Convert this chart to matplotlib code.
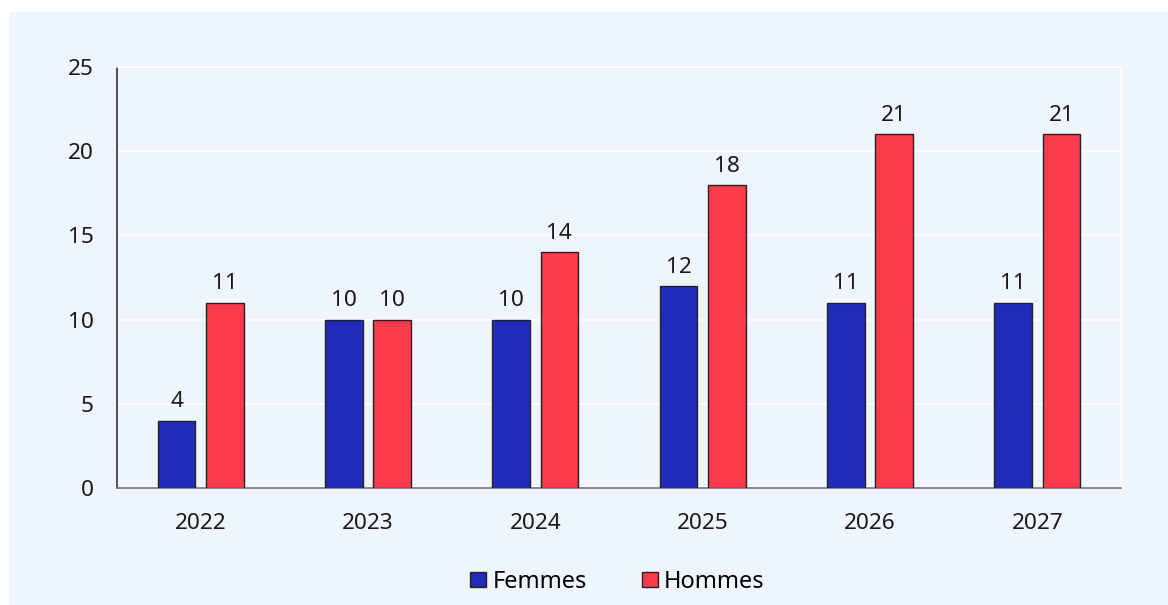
import matplotlib
matplotlib.use("Agg")
import matplotlib.pyplot as plt
from matplotlib.patches import Rectangle
import numpy as np

years = ["2022", "2023", "2024", "2025", "2026", "2027"]
femmes = [4, 10, 10, 12, 11, 11]
hommes = [11, 10, 14, 18, 21, 21]
series_names = ["Femmes", "Hommes"]
colors = ["#1f2bb9", "#fb3a4b"]
yticks = [0, 5, 10, 15, 20, 25]

plt.rcParams['font.family'] = ['Noto Sans', 'DejaVu Sans']
FS = 16.3

W, H = 1168, 605
fig = plt.figure(figsize=(W/100, H/100), dpi=100, facecolor="white")
bg = "#eef5fc"
fig.patches.append(Rectangle((9/W, 0), 1 - 9/W, 1 - 12/H, transform=fig.transFigure,
                             facecolor=bg, edgecolor="none", zorder=-10))

ax = fig.add_axes([117/W, 1 - 488/H, (1121-117)/W, (488-67)/H])
ax.set_facecolor(bg)
x = np.arange(len(years))
bw = 0.225
off = 0.144
for vals, name, col, d in [(femmes, series_names[0], colors[0], -off), (hommes, series_names[1], colors[1], off)]:
    ax.bar(x + d, vals, bw, color=col, edgecolor="#222222", linewidth=1.0, label=name, zorder=3)
    for xi, v in zip(x + d, vals):
        ax.annotate(str(v), (xi, v), xytext=(0, 6), textcoords="offset points",
                    ha="center", va="bottom", fontsize=FS, color="#1a1a1a")

ax.set_xlim(-0.5, len(years) - 0.5)
ax.set_ylim(0, 25)
ax.set_yticks(yticks)
ax.set_xticks(x)
ax.set_xticklabels(years)
ax.yaxis.grid(True, color="white", linewidth=1.2, zorder=0)
ax.set_axisbelow(True)
ax.tick_params(axis="both", length=0, labelsize=FS, colors="#1a1a1a")
ax.tick_params(axis="y", pad=17)
ax.tick_params(axis="x", pad=18)
ax.spines["top"].set_color("white")
ax.spines["right"].set_color("white")
ax.spines["left"].set_color("#333333")
ax.spines["bottom"].set_color("#777777")
for s in ax.spines.values():
    s.set_linewidth(1.2)

leg = fig.legend(loc="center", bbox_to_anchor=(617.5/W, 1 - 582/H), ncol=2, frameon=False,
                 fontsize=17, handlelength=0.68, handleheight=0.62, handletextpad=0.27,
                 columnspacing=2.3)
fig.savefig("out.png", dpi=100, facecolor="white")
